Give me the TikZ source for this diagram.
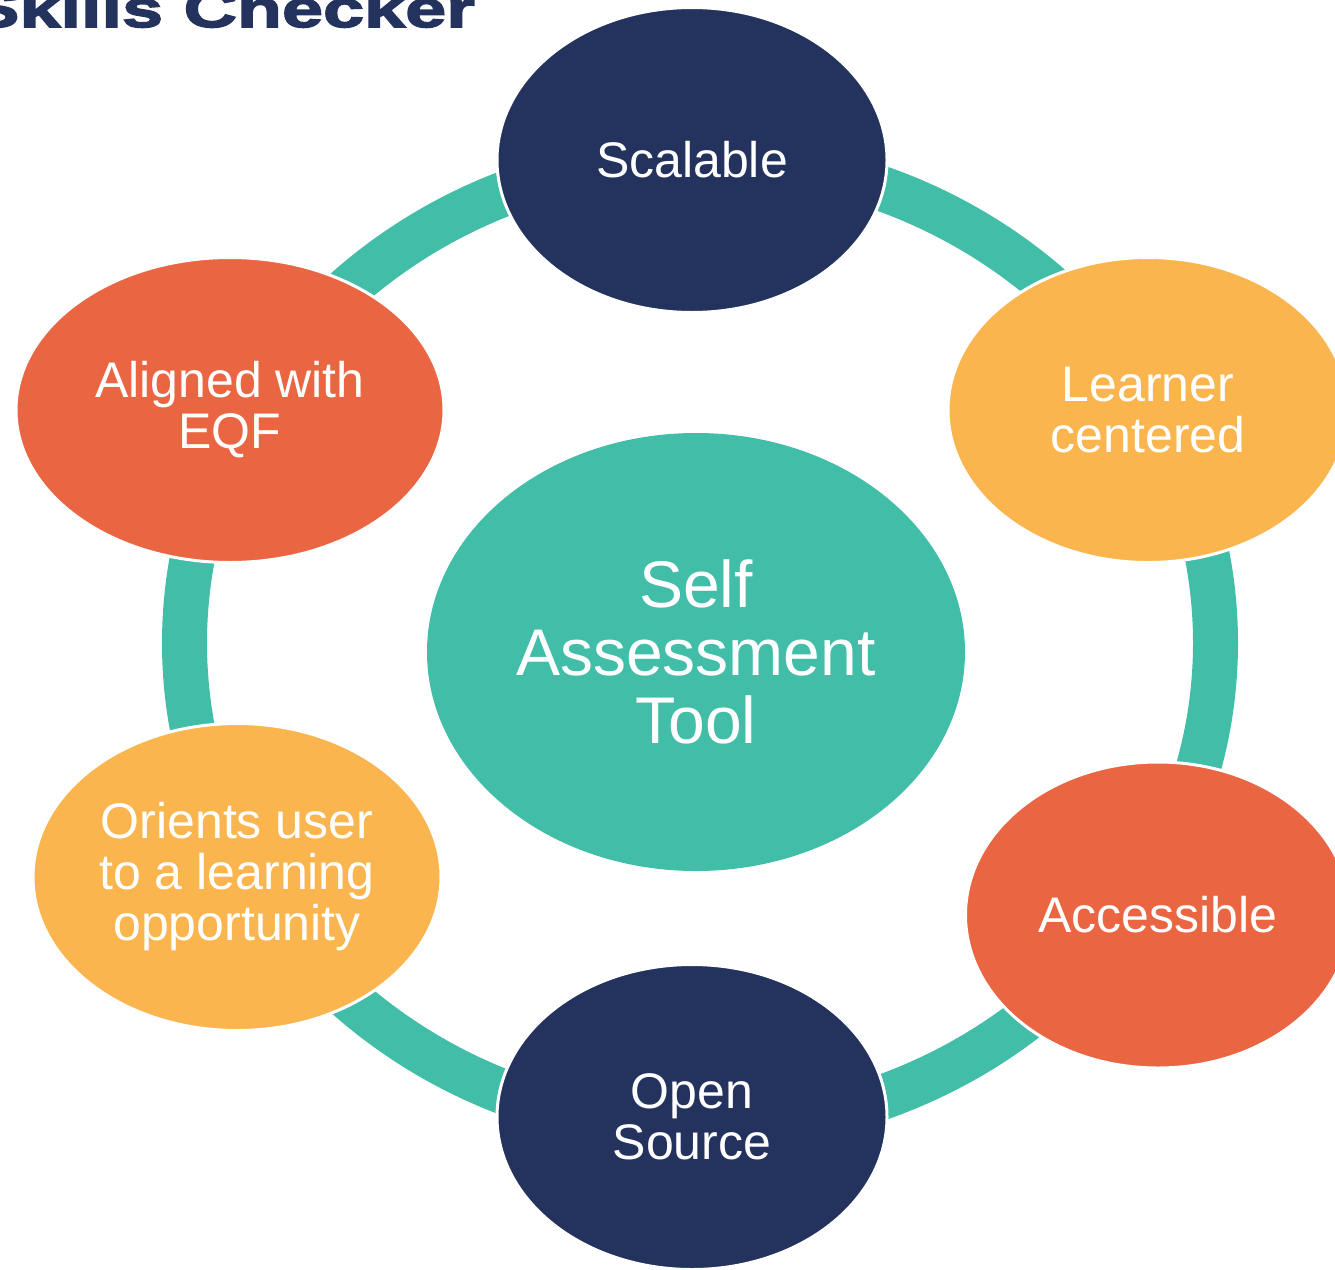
\documentclass[tikz,border=0pt]{standalone}
\usepackage{fontspec}
\setmainfont{Liberation Sans}
\newfontfamily\titlefont{Liberation Sans}[FakeStretch=1.42,BoldFeatures={FakeBold=3}]
\usetikzlibrary{shapes.geometric}
\definecolor{navy}{HTML}{24325E}
\definecolor{ringteal}{HTML}{41BDA8}
\definecolor{amber}{HTML}{FBB54F}
\definecolor{coral}{HTML}{EA6643}
\begin{document}
\begin{tikzpicture}[x=1pt,y=-1pt,
  bubble/.style={ellipse, draw=white, line width=3pt, inner sep=0pt, align=center,
    text=white, font=\fontsize{50}{51}\selectfont},
  ring/.style={draw=ringteal, line width=45pt}
]
\useasboundingbox (0,0) rectangle (1335,1269);
\coordinate (ringc) at (700,643);
\draw[ring] (ringc) ellipse [x radius=515.5pt, y radius=485.5pt];
\node[bubble, fill=navy, minimum width=390pt, minimum height=305pt] (scal) at (692,160) {Scalable};
\node[bubble, fill=amber, minimum width=400pt, minimum height=305pt] (learn) at (1148,410) {Learner\\centered};
\node[bubble, fill=coral, minimum width=385pt, minimum height=306pt] (acc) at (1158,915) {Accessible};
\node[bubble, fill=navy, minimum width=390pt, minimum height=305pt] (open) at (692,1117) {Open\\Source};
\node[bubble, fill=amber, minimum width=408pt, minimum height=307pt] (orient) at (237,877) {Orients user\\to a learning\\opportunity};
\node[bubble, fill=coral, minimum width=428pt, minimum height=305pt] (align) at (230,410) {Aligned with\\EQF};
\node[bubble, fill=ringteal, draw=none, minimum width=538pt, minimum height=438pt,
  font=\fontsize{66}{68}\selectfont] (core) at (696,652) {Self\\Assessment\\Tool};
\node[anchor=base west, text=navy, inner sep=0pt,
  font=\titlefont\bfseries\fontsize{52}{52}\selectfont] (title) at (-30,27) {Skills Checker};
\end{tikzpicture}
\end{document}
